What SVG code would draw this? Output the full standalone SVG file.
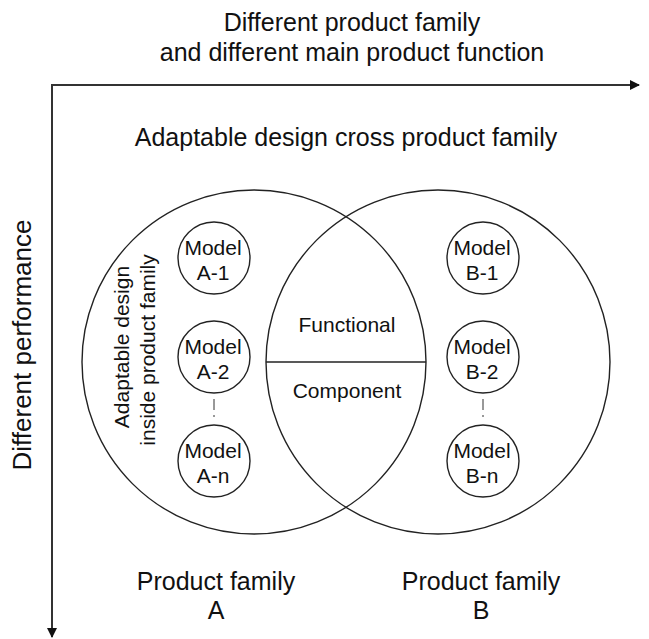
<svg xmlns="http://www.w3.org/2000/svg" width="649" height="639" viewBox="0 0 649 639">
<defs>
<marker id="ah" markerWidth="10" markerHeight="10" refX="9" refY="5" orient="auto" markerUnits="userSpaceOnUse">
<path d="M0,0 L10,5 L0,10 Z" fill="#111"/>
</marker>
<style>
text{font-family:"Liberation Sans",Arial,sans-serif;fill:#111;text-anchor:middle}
.big{font-size:25px}
.mid{font-size:21px}
.c{fill:none;stroke:#222;stroke-width:1.4}
.axis{stroke:#333;stroke-width:2;fill:none}
</style>
</defs>
<rect width="649" height="639" fill="#fff"/>
<g id="axes">
<path class="axis" d="M51,85 H639" marker-end="url(#ah)"/>
<path class="axis" d="M52,85 V637" marker-end="url(#ah)"/>
</g>
<g id="labels">
<text class="big" x="352" y="31">Different product family</text>
<text class="big" x="352" y="61">and different main product function</text>
<text class="big" x="346" y="146">Adaptable design cross product family</text>
<text class="big" style="font-size:26px" transform="translate(31,345) rotate(-90)">Different performance</text>
</g>
<g id="familyA">
<circle class="c" cx="254" cy="362" r="172"/>
<text class="mid" transform="translate(129,347) rotate(-90)">Adaptable design</text>
<text class="mid" transform="translate(155,350) rotate(-90)">inside product family</text>
<text class="big" x="216" y="590">Product family</text>
<text class="big" x="216" y="619">A</text>
</g>
<g id="familyB">
<circle class="c" cx="438" cy="362" r="172"/>
<text class="big" x="481" y="590">Product family</text>
<text class="big" x="481" y="619">B</text>
</g>
<g id="overlap">
<line x1="266" y1="362" x2="426" y2="362" stroke="#222" stroke-width="1.4"/>
<text class="mid" x="347" y="332">Functional</text>
<text class="mid" x="347" y="398">Component</text>
</g>
<g id="modelA1"><circle class="c" cx="214" cy="258" r="36"/><text class="mid" x="213" y="255">Model</text><text class="mid" x="213" y="280">A-1</text></g>
<g id="modelA2"><circle class="c" cx="214" cy="357" r="36"/><text class="mid" x="213" y="354">Model</text><text class="mid" x="213" y="379">A-2</text></g>
<g id="modelAn"><circle class="c" cx="214" cy="461" r="36"/><text class="mid" x="213" y="458">Model</text><text class="mid" x="213" y="483">A-n</text></g>
<g id="modelB1"><circle class="c" cx="483" cy="258" r="36"/><text class="mid" x="482" y="255">Model</text><text class="mid" x="482" y="280">B-1</text></g>
<g id="modelB2"><circle class="c" cx="483" cy="357" r="36"/><text class="mid" x="482" y="354">Model</text><text class="mid" x="482" y="379">B-2</text></g>
<g id="modelBn"><circle class="c" cx="483" cy="461" r="36"/><text class="mid" x="482" y="458">Model</text><text class="mid" x="482" y="483">B-n</text></g>
<g id="connectors">
<line x1="214" y1="399" x2="214" y2="421" stroke="#333" stroke-width="1" stroke-dasharray="11 5 2 40"/>
<line x1="483" y1="399" x2="483" y2="421" stroke="#333" stroke-width="1" stroke-dasharray="11 5 2 40"/>
</g>
</svg>
